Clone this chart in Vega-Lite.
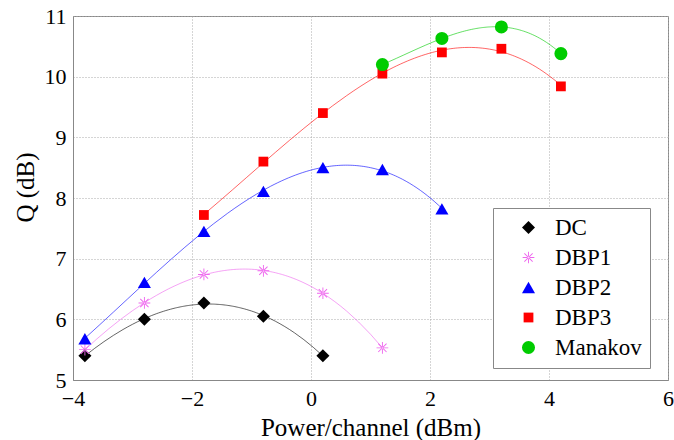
{
  "$schema": "https://vega.github.io/schema/vega-lite/v6.json",
  "width": 595,
  "height": 364,
  "autosize": {"type": "none"},
  "padding": {"left": 73, "top": 16, "right": 6, "bottom": 60},
  "background": "white",
  "config": {
    "font": "Times New Roman",
    "view": {"stroke": "#888888", "strokeWidth": 1},
    "axis": {
      "labelFont": "Times New Roman",
      "titleFont": "Times New Roman",
      "labelFontSize": 22,
      "titleFontSize": 25,
      "titleFontWeight": "normal",
      "labelColor": "black",
      "titleColor": "black",
      "gridColor": "#aaaaaa",
      "gridDash": [1, 2],
      "gridWidth": 1,
      "domainColor": "#888888",
      "ticks": false,
      "labelFlush": false,
      "format": "d"
    },
    "legend": {
      "labelFont": "Times New Roman",
      "labelFontSize": 23,
      "labelColor": "black"
    }
  },
  "data": {
    "values": [
      {"series": "DC", "x": -3.8, "Q": 5.4},
      {"series": "DC", "x": -2.8, "Q": 6.0},
      {"series": "DC", "x": -1.8, "Q": 6.27},
      {"series": "DC", "x": -0.8, "Q": 6.05},
      {"series": "DC", "x": 0.2, "Q": 5.4},
      {"series": "DBP1", "x": -3.8, "Q": 5.5},
      {"series": "DBP1", "x": -2.8, "Q": 6.27},
      {"series": "DBP1", "x": -1.8, "Q": 6.74},
      {"series": "DBP1", "x": -0.8, "Q": 6.8},
      {"series": "DBP1", "x": 0.2, "Q": 6.43},
      {"series": "DBP1", "x": 1.2, "Q": 5.53},
      {"series": "DBP2", "x": -3.8, "Q": 5.68},
      {"series": "DBP2", "x": -2.8, "Q": 6.61},
      {"series": "DBP2", "x": -1.8, "Q": 7.45},
      {"series": "DBP2", "x": -0.8, "Q": 8.11},
      {"series": "DBP2", "x": 0.2, "Q": 8.5},
      {"series": "DBP2", "x": 1.2, "Q": 8.47},
      {"series": "DBP2", "x": 2.2, "Q": 7.82},
      {"series": "DBP3", "x": -1.8, "Q": 7.72},
      {"series": "DBP3", "x": -0.8, "Q": 8.6},
      {"series": "DBP3", "x": 0.2, "Q": 9.4},
      {"series": "DBP3", "x": 1.2, "Q": 10.05},
      {"series": "DBP3", "x": 2.2, "Q": 10.4},
      {"series": "DBP3", "x": 3.2, "Q": 10.46},
      {"series": "DBP3", "x": 4.2, "Q": 9.84},
      {"series": "Manakov", "x": 1.2, "Q": 10.2},
      {"series": "Manakov", "x": 2.2, "Q": 10.63},
      {"series": "Manakov", "x": 3.2, "Q": 10.82},
      {"series": "Manakov", "x": 4.2, "Q": 10.38}
    ]
  },
  "layer": [
    {
      "transform": [
        {"regression": "Q", "on": "x", "groupby": ["series"], "method": "poly", "order": 3}
      ],
      "mark": {"type": "line", "strokeWidth": 1, "opacity": 0.6},
      "encoding": {
        "x": {"field": "x", "type": "quantitative"},
        "y": {"field": "Q", "type": "quantitative"},
        "stroke": {
          "field": "series",
          "type": "nominal",
          "scale": {
            "domain": ["Manakov", "DBP3", "DBP2", "DBP1", "DC"],
            "range": ["#00cc00", "#ff0000", "#0000ff", "#ee66ee", "#000000"]
          },
          "legend": null
        }
      }
    },
    {
      "mark": {"type": "point", "filled": true, "size": 170, "strokeWidth": 0, "opacity": 1},
      "encoding": {
        "x": {
          "field": "x",
          "type": "quantitative",
          "title": "Power/channel (dBm)",
          "scale": {"domain": [-4, 6], "nice": false, "zero": false},
          "axis": {"values": [-4, -2, 0, 2, 4, 6], "labelPadding": 8, "format": "d", "labelFlush": false, "titleBaseline": "alphabetic", "titleY": 55}
        },
        "y": {
          "field": "Q",
          "type": "quantitative",
          "title": "Q (dB)",
          "scale": {"domain": [5, 11], "nice": false, "zero": false},
          "axis": {"values": [5, 6, 7, 8, 9, 10, 11], "labelPadding": 7, "format": "d", "labelFlush": false, "titleX": -48, "titleY": 171, "titleBaseline": "middle", "titleAlign": "center", "titleAngle": 270}
        },
        "color": {
          "field": "series",
          "type": "nominal",
          "scale": {
            "domain": ["DC", "DBP1", "DBP2", "DBP3", "Manakov"],
            "range": ["#000000", "#ee66ee", "#0000ff", "#ff0000", "#00cc00"]
          },
          "legend": {
            "title": null,
            "orient": "none",
            "legendX": 420,
            "legendY": 192,
            "strokeColor": "#888888",
            "fillColor": "white",
            "padding": 8,
            "rowPadding": 6,
            "symbolSize": 170,
            "symbolStrokeWidth": 0,
            "symbolOffset": 16,
            "labelOffset": 15
          }
        },
        "shape": {
          "field": "series",
          "type": "nominal",
          "scale": {
            "domain": ["DC", "DBP1", "DBP2", "DBP3", "Manakov"],
            "range": [
              "diamond",
              "M-0.07,-0.9H0.07V0.9H-0.07ZM-0.9,-0.07H0.9V0.07H-0.9ZM-0.686,-0.586L0.586,0.686L0.686,0.586L-0.586,-0.686ZM-0.586,0.686L0.686,-0.586L0.586,-0.686L-0.686,0.586Z",
              "triangle-up",
              "M-0.75,-0.75H0.75V0.75H-0.75Z",
              "circle"
            ]
          }
        }
      }
    }
  ]
}
